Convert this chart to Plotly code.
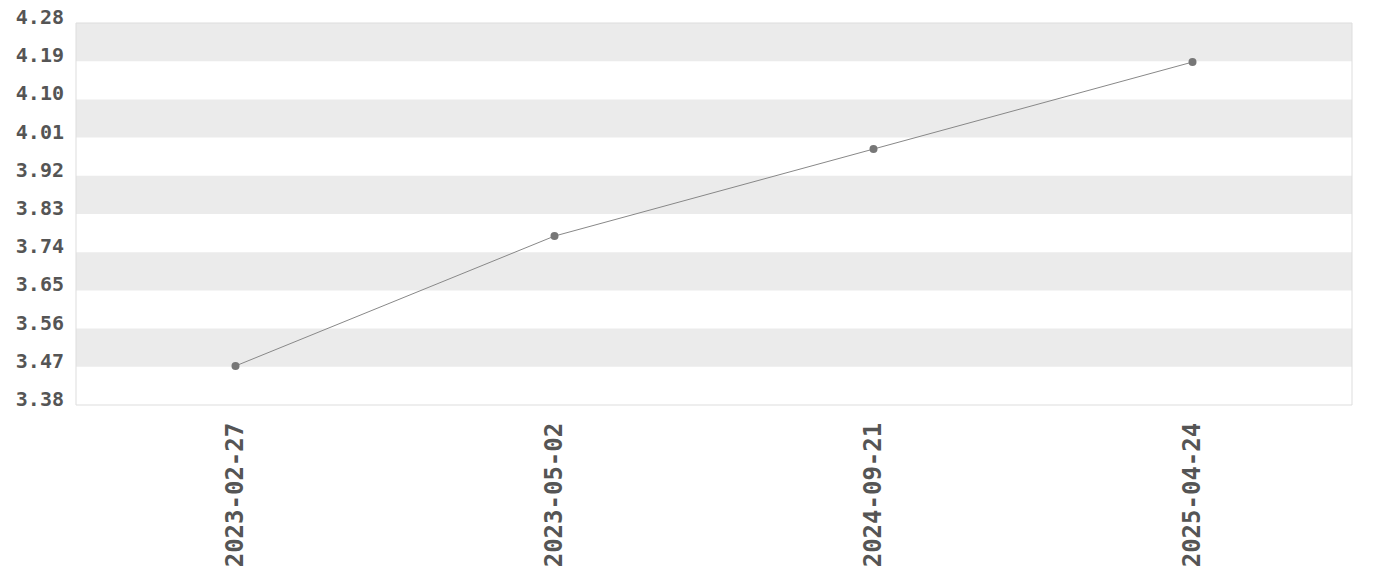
import plotly.graph_objects as go

dates = ["2023-02-27", "2023-05-02", "2024-09-21", "2025-04-24"]
values = [3.472, 3.778, 3.983, 4.188]
y_ticks = [3.38, 3.47, 3.56, 3.65, 3.74, 3.83, 3.92, 4.01, 4.10, 4.19, 4.28]

FONT = "DejaVu Sans Mono"

fig = go.Figure()
fig.add_trace(go.Scatter(
    x=dates, y=values, mode="lines+markers",
    line=dict(color="#888888", width=1),
    marker=dict(color="#777777", size=8),
    hoverinfo="x+y", showlegend=False,
))

shapes = []
for i in range(len(y_ticks) - 1):
    if (len(y_ticks) - 2 - i) % 2 == 0:
        shapes.append(dict(type="rect", xref="paper", yref="y", x0=0, x1=1,
                           y0=y_ticks[i], y1=y_ticks[i + 1],
                           fillcolor="#ebebeb", line=dict(width=0), layer="below"))
shapes.append(dict(type="rect", xref="paper", yref="paper", x0=0, x1=1, y0=0, y1=1,
                   line=dict(color="#dddddd", width=1), fillcolor="rgba(0,0,0,0)"))

fig.update_layout(
    width=1364, height=564,
    margin=dict(l=68, r=20, t=15, b=167),
    paper_bgcolor="white", plot_bgcolor="white",
    shapes=shapes,
    xaxis=dict(type="category", range=[-0.5, len(dates) - 0.5], tickangle=-90,
               automargin=False, ticklabelstandoff=12, ticklabeloverflow="allow",
               showgrid=False, zeroline=False, showline=False, ticks="",
               tickfont=dict(family=FONT, size=24, color="#555555", weight="bold")),
    yaxis=dict(range=[y_ticks[0], y_ticks[-1]], tickvals=y_ticks, automargin=False,
               ticktext=[f"{v:.2f}" for v in y_ticks],
               ticklabelstandoff=11, ticklabelshift=-6, ticklabeloverflow="allow",
               showgrid=False, zeroline=False, showline=False, ticks="",
               tickfont=dict(family=FONT, size=20, color="#555555", weight="bold")),
)

fig.write_html("out.html")
